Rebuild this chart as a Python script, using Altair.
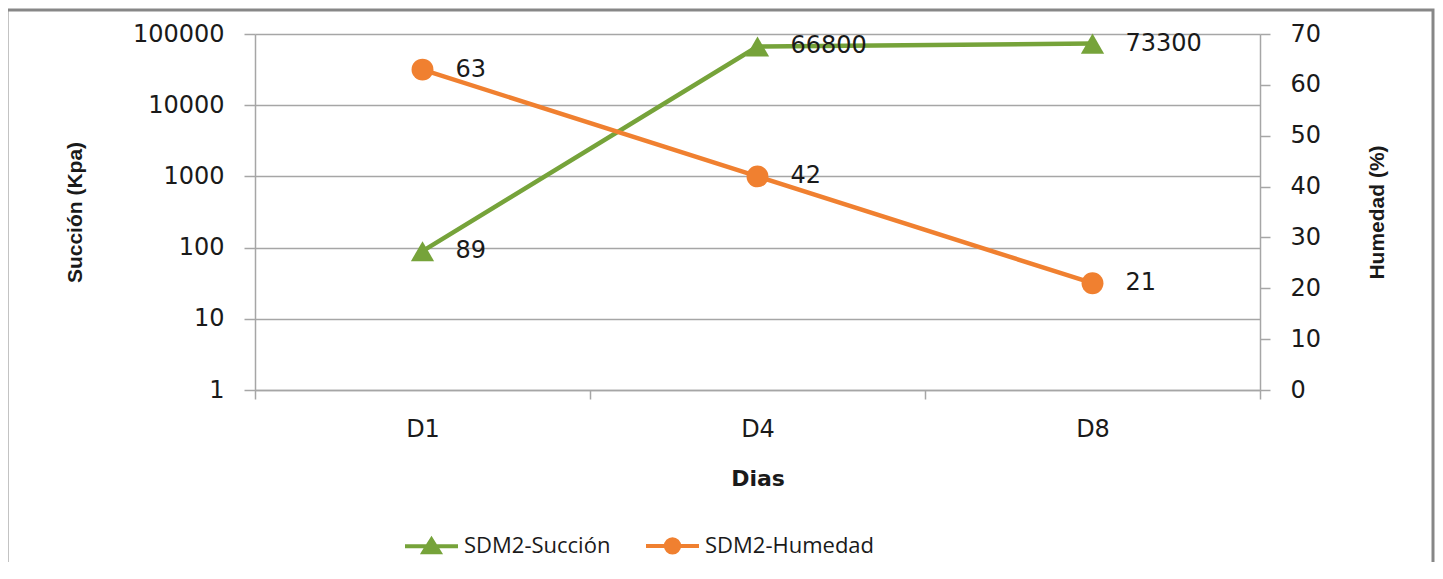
import altair as alt
import pandas as pd

dias = ["D1", "D4", "D8"]
succion = [89, 66800, 73300]
humedad = [63, 42, 21]
series_names = ["SDM2-Succión", "SDM2-Humedad"]
left_ticks = [1, 10, 100, 1000, 10000, 100000]
right_ticks = [0, 10, 20, 30, 40, 50, 60, 70]

GREEN = "#76A33A"
ORANGE = "#F08030"
GRID = "#A6A6A6"
TXT = "#1a1a1a"
TICKFONT = "DejaVu Sans"
TITLEFONT = "Liberation Sans"

df = pd.DataFrame({"dia": dias, "succion": succion, "humedad": humedad})

xenc = alt.X(
    "dia:N",
    sort=dias,
    scale=alt.Scale(type="band", paddingInner=0, paddingOuter=0),
    axis=alt.Axis(
        title="Dias",
        tickBand="extent",
        labelAngle=0,
        tickSize=9,
        labelPadding=18,
        titlePadding=27,
        titleFont="DejaVu Sans",
        titleFontWeight="bold",
        titleFontSize=22,
        titleColor=TXT,
        domainColor=GRID,
        domainWidth=1.5,
        tickColor=GRID,
        tickWidth=1.5,
        labelFont=TICKFONT,
        labelFontSize=24,
        labelColor=TXT,
        grid=False,
    ),
)

base = alt.Chart(df).encode(x=xenc)

y_s = alt.Y(
    "succion:Q",
    scale=alt.Scale(type="log", domain=[1, 100000]),
    axis=alt.Axis(
        title="Succión (Kpa)",
        values=left_ticks,
        format="d",
        orient="left",
        grid=True,
        gridColor=GRID,
        gridWidth=1.5,
        tickSize=11,
        tickColor=GRID,
        tickWidth=1.5,
        domainColor=GRID,
        domainWidth=1.5,
        labelPadding=20,
        labelFont=TICKFONT,
        labelFontSize=24,
        labelColor=TXT,
        titleFont=TITLEFONT,
        titleFontWeight="bold",
        titleFontSize=21,
        titleColor=TXT,
        titleAngle=270,
        titleAlign="center",
        titleBaseline="middle",
        titleX=-180,
        titleY=178,
    ),
)

y_h = alt.Y(
    "humedad:Q",
    scale=alt.Scale(domain=[0, 70]),
    axis=alt.Axis(
        title="Humedad (%)",
        values=right_ticks,
        orient="right",
        grid=False,
        tickSize=10,
        tickColor=GRID,
        tickWidth=1.5,
        domainColor=GRID,
        domainWidth=1.5,
        labelPadding=20,
        labelFont=TICKFONT,
        labelFontSize=24,
        labelColor=TXT,
        titleFont=TITLEFONT,
        titleFontWeight="bold",
        titleFontSize=21,
        titleColor=TXT,
        titleAngle=270,
        titleAlign="center",
        titleBaseline="middle",
        titleX=117,
        titleY=178,
    ),
)

succ = alt.layer(
    base.mark_line(color=GREEN, strokeWidth=4.5).encode(y=y_s),
    base.mark_point(shape="triangle-up", filled=True, size=540, color=GREEN, opacity=1).encode(y=y_s),
    base.mark_text(align="left", baseline="middle", dx=33, font=TICKFONT, fontSize=24, color=TXT).encode(
        y=y_s, text=alt.Text("succion:Q", format="d")
    ),
)

hum = alt.layer(
    base.mark_line(color=ORANGE, strokeWidth=4.5).encode(y=y_h),
    base.mark_point(shape="circle", filled=True, size=480, color=ORANGE, opacity=1).encode(y=y_h),
    base.mark_text(align="left", baseline="middle", dx=33, font=TICKFONT, fontSize=24, color=TXT).encode(
        y=y_h, text=alt.Text("humedad:Q", format="d")
    ),
)

# outer frame (decoration)
frame = alt.Chart(pd.DataFrame({"a": [0]})).mark_rect(
    fill="transparent", stroke="#878787", strokeWidth=3
).encode(
    x=alt.value(-248), x2=alt.value(1178), y=alt.value(-24), y2=alt.value(700)
)

TRI = "M-1,0H1M-0.3,0.22L0,-0.26L0.3,0.22Z"
CIR = "M-1,0H1M-0.25,0A0.25,0.25,0,1,0,0.25,0A0.25,0.25,0,1,0,-0.25,0Z"

leg = alt.Legend(
    title=None,
    orient="none",
    legendX=148,
    legendY=483,
    direction="horizontal",
    symbolSize=2809,
    symbolStrokeWidth=4,
    labelFont="Open Sans",
    labelFontSize=22,
    labelColor=TXT,
    labelOffset=4,
    labelLimit=400,
    columnPadding=27,
    padding=0,
)

legend_layer = alt.Chart(pd.DataFrame({"series": series_names})).transform_filter(
    "datum.series == 'none'"
).mark_point(filled=True, opacity=1, strokeWidth=4).encode(
    fill=alt.Fill("series:N", scale=alt.Scale(domain=series_names, range=[GREEN, ORANGE]), legend=leg),
    stroke=alt.Stroke("series:N", scale=alt.Scale(domain=series_names, range=[GREEN, ORANGE]), legend=leg),
    shape=alt.Shape("series:N", scale=alt.Scale(domain=series_names, range=[TRI, CIR]), legend=leg),
)

chart = (
    alt.layer(frame, succ, hum, legend_layer)
    .resolve_scale(y="independent")
    .properties(
        width=1005,
        height=356,
        autosize=alt.AutoSizeParams(type="none"),
        padding={"left": 247, "top": 26, "right": 175, "bottom": 172},
        background="white",
    )
    .configure_view(stroke=None)
)

chart.save("out.html", embed_options={"renderer": "svg", "actions": False})
